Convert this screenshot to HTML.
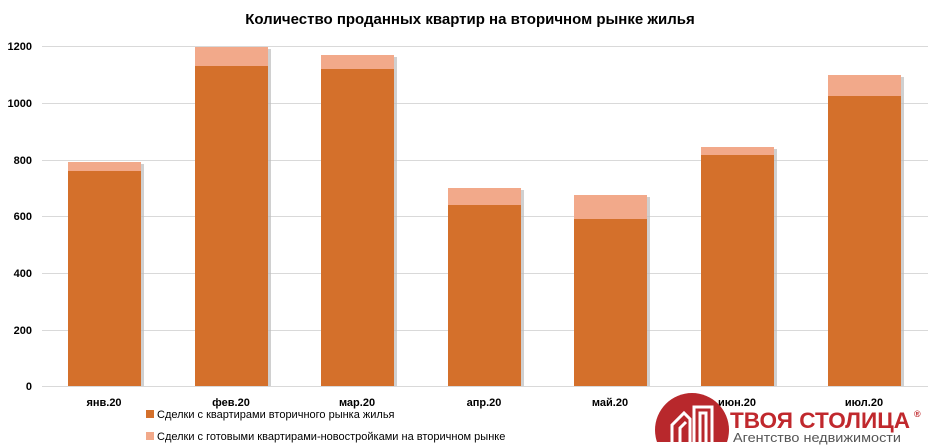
<!DOCTYPE html>
<html><head><meta charset="utf-8"><style>
body{margin:0;background:#fff}
svg{display:block}
text{font-family:"Liberation Sans","DejaVu Sans",sans-serif}
</style></head><body>
<svg width="940" height="447" viewBox="0 0 940 447" xmlns="http://www.w3.org/2000/svg">
<defs><clipPath id="c"><rect x="640" y="380" width="100" height="62"/></clipPath></defs>
<text x="470" y="24" text-anchor="middle" font-size="15" font-weight="bold" fill="#000">Количество проданных квартир на вторичном рынке жилья</text>
<g stroke="#d9d9d9" stroke-width="1">
<line x1="42" x2="928" y1="46.5" y2="46.5"/><line x1="42" x2="928" y1="103.5" y2="103.5"/>
<line x1="42" x2="928" y1="160.5" y2="160.5"/><line x1="42" x2="928" y1="216.5" y2="216.5"/>
<line x1="42" x2="928" y1="273.5" y2="273.5"/><line x1="42" x2="928" y1="330.5" y2="330.5"/>
<line x1="42" x2="928" y1="386.5" y2="386.5"/>
</g>
<g font-size="11" font-weight="bold" text-anchor="end" fill="#000">
<text x="32" y="50">1200</text><text x="32" y="107">1000</text><text x="32" y="164">800</text>
<text x="32" y="220">600</text><text x="32" y="277">400</text><text x="32" y="334">200</text><text x="32" y="390">0</text>
</g>
<g fill="#bcbcbc" opacity="0.7">
<rect x="141" y="164" width="3" height="222"/><rect x="268" y="49" width="3" height="337"/>
<rect x="394" y="57" width="3" height="329"/><rect x="521" y="190" width="3" height="196"/>
<rect x="647" y="197" width="3" height="189"/><rect x="774" y="149" width="3" height="237"/>
<rect x="901" y="77" width="3" height="309"/>
</g>
<g fill="#F2A98A">
<rect x="68" y="162" width="73" height="10"/><rect x="195" y="47" width="73" height="20"/>
<rect x="321" y="55" width="73" height="14"/><rect x="448" y="188" width="73" height="17"/>
<rect x="574" y="195" width="73" height="25"/><rect x="701" y="147" width="73" height="8"/>
<rect x="828" y="75" width="73" height="21"/>
</g>
<g fill="#D4702B">
<rect x="68" y="171" width="73" height="215"/><rect x="195" y="66" width="73" height="320"/>
<rect x="321" y="69" width="73" height="317"/><rect x="448" y="205" width="73" height="181"/>
<rect x="574" y="219" width="73" height="167"/><rect x="701" y="155" width="73" height="231"/>
<rect x="828" y="96" width="73" height="290"/>
</g>
<g font-size="11" font-weight="bold" text-anchor="middle" fill="#000">
<text x="104" y="406">янв.20</text><text x="231" y="406">фев.20</text><text x="357" y="406">мар.20</text>
<text x="484" y="406">апр.20</text><text x="610" y="406">май.20</text><text x="737" y="406">июн.20</text>
<text x="864" y="406">июл.20</text>
</g>
<rect x="146" y="410" width="8" height="8" fill="#D4702B"/>
<text x="157" y="418" font-size="11" fill="#000">Сделки с квартирами вторичного рынка жилья</text>
<rect x="146" y="432" width="8" height="8" fill="#F2A98A"/>
<text x="157" y="440" font-size="11" fill="#000">Сделки с готовыми квартирами-новостройками на вторичном рынке</text>
<g clip-path="url(#c)">
<circle cx="692" cy="430" r="37" fill="#B8282C"/>
<path d="M672 442 L672 425 L684 413 L690 419 L690 442 M680 442 V428 L686 422 M694 442 V407 H712 V442 M700 442 V413 H706 V442" stroke="#fff" stroke-width="3" fill="none"/>
</g>
<text x="730" y="428" font-size="22" font-weight="bold" fill="#C0282D" textLength="180" lengthAdjust="spacingAndGlyphs">ТВОЯ СТОЛИЦА</text>
<text x="914" y="417" font-size="9" font-weight="bold" fill="#C0282D">®</text>
<text x="733" y="442" font-size="12.5" fill="#555" textLength="168" lengthAdjust="spacingAndGlyphs">Агентство недвижимости</text>
</svg>
</body></html>
